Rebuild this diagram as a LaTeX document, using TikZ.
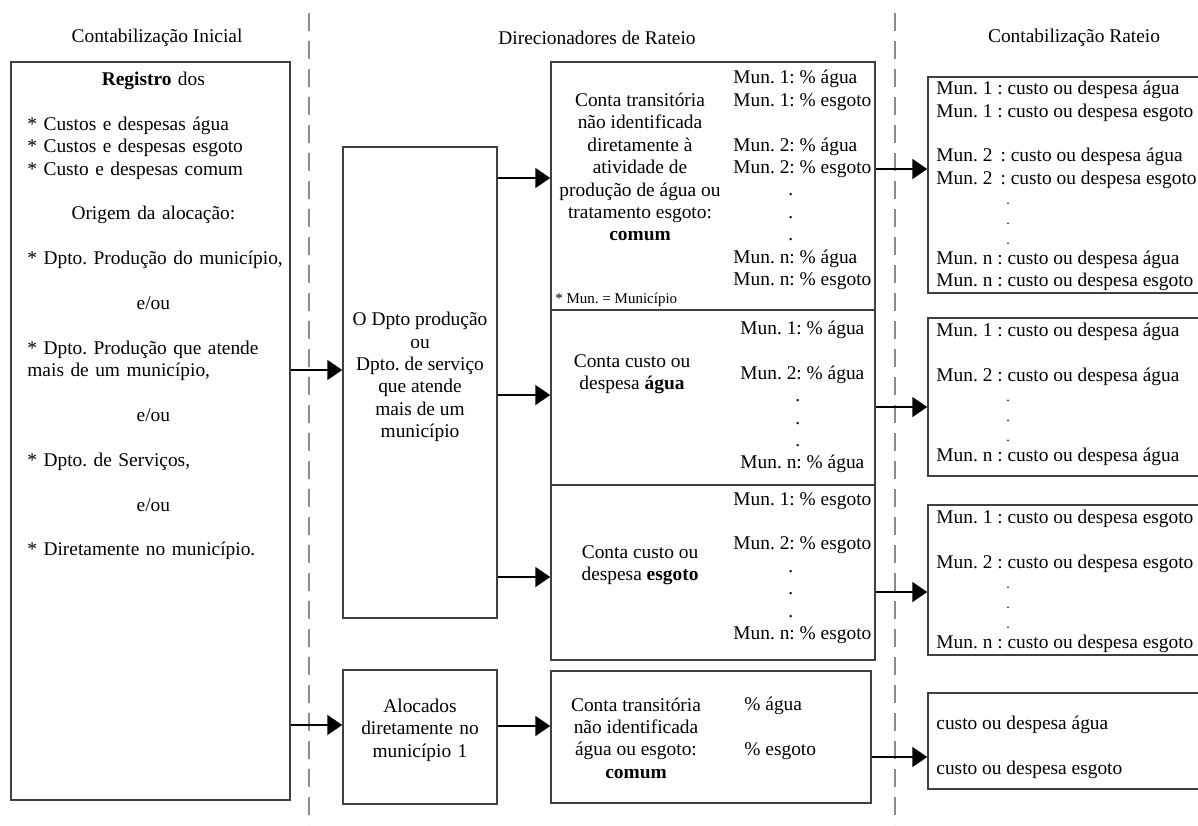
\documentclass[tikz,border=0pt]{standalone}
\usepackage{fontspec}
\setmainfont{Liberation Serif}
\usetikzlibrary{arrows.meta,fit}
\frenchspacing

\tikzset{
  caixa/.style={draw=black!75, line width=0.75pt, inner sep=0pt},
  seta/.style={line width=1pt, -{Triangle[length=7.5pt,width=10pt]}},
  divisa/.style={draw=black!45, line width=1pt, dash pattern=on 9pt off 5pt},
  lista/.style={align=left, anchor=west, inner sep=0pt},
  bloco/.style={align=center, inner sep=0pt}
}
\newcommand{\meio}[1]{\makebox[126pt]{#1}}
\newcommand{\ponto}[1]{\hspace*{#1}.}
\newcommand{\pontinho}{\hspace*{35pt}{\fontsize{7}{8}\selectfont .}}

\begin{document}
\begin{tikzpicture}[x=0.5pt, y=-0.5pt, font=\fontsize{9.7}{11.2}\selectfont]
    \path[use as bounding box, clip] (0,0) rectangle (1198,825);

    % Drawing the dividers
    \draw[divisa] (309,13) -- (309,825);
    \draw[divisa] (895,13) -- (895,825);

    % Column titles
    \node (tInicial) at (157,38) {Contabilização Inicial};
    \node (tDirecionadores) at (597,38) {Direcionadores de Rateio};
    \node (tRateio) at (1074,38) {Contabilização Rateio};

    % Contabilizacao inicial
    \node[caixa, fit={(11,62) (290,800)}] (inicial) {};
    \node[inner sep=0pt, text width=140pt, align=left, anchor=west] (registro) at (27,316) {%
        \hyphenpenalty=10000
        \meio{\textbf{Registro} dos}\\ ~\\
        {*} Custos e despesas água\\
        {*} Custos e despesas esgoto\\
        {*} Custo e despesas comum\\ ~\\
        \meio{Origem da alocação:}\\ ~\\
        {*} Dpto. Produção do município,\\ ~\\
        \meio{e/ou}\\ ~\\
        {*} Dpto. Produção que atende\\
        mais de um município,\\ ~\\
        \meio{e/ou}\\ ~\\
        {*} Dpto. de Serviços,\\ ~\\
        \meio{e/ou}\\ ~\\
        {*} Diretamente no município.};

    % Departamentos
    \node[caixa, fit={(343,147) (497,618)}] (dpto) {};
    \node[bloco] (dptoTexto) at (420,377) {O Dpto produção\\ou\\Dpto. de serviço\\que atende\\mais de um\\município};
    \node[caixa, fit={(343,670) (497,804)}, align=center] (alocados) {Alocados\\diretamente no\\município 1};

    % Direcionadores de rateio
    \node[caixa, fit={(551,62) (875,310)}] (comum) {};
    \node[caixa, fit={(551,310) (875,485)}] (agua) {};
    \node[caixa, fit={(551,485) (875,660)}] (esgoto) {};
    \node[caixa, fit={(551,671) (871,803)}] (direto) {};

    \node[bloco] (comumTexto) at (640,167) {Conta transitória\\não identificada\\diretamente à\\atividade de\\produção de água ou\\tratamento esgoto:\\\textbf{comum}};
    \node[lista] (comumMun) at (733,180) {Mun. 1: \% água\\Mun. 1: \% esgoto\\~\\Mun. 2: \% água\\Mun. 2: \% esgoto\\\ponto{27.5pt}\\\ponto{27.5pt}\\\ponto{27.5pt}\\Mun. n: \% água\\Mun. n: \% esgoto};
    \node[lista, font=\fontsize{7.5}{9}\selectfont] (nota) at (555,300) {* Mun. = Município};

    \node[bloco] (aguaTexto) at (632,374) {Conta custo ou\\despesa \textbf{água}};
    \node[lista] (aguaMun) at (740,397) {Mun. 1: \% água\\~\\Mun. 2: \% água\\\ponto{27.5pt}\\\ponto{27.5pt}\\\ponto{27.5pt}\\Mun. n: \% água};

    \node[bloco] (esgotoTexto) at (640,565) {Conta custo ou\\despesa \textbf{esgoto}};
    \node[lista] (esgotoMun) at (733,568) {Mun. 1: \% esgoto\\~\\Mun. 2: \% esgoto\\\ponto{27.5pt}\\\ponto{27.5pt}\\\ponto{27.5pt}\\Mun. n: \% esgoto};

    \node[bloco] (diretoTexto) at (636,738) {Conta transitória\\não identificada\\água ou esgoto:\\\textbf{comum}};
    \node[lista] (diretoPct) at (744,728) {\% água\\~\\\% esgoto};

    % Contabilizacao rateio
    \node[caixa, fit={(928,77) (1215,293)}] (rateioComum) {};
    \node[caixa, fit={(928,318) (1215,476)}] (rateioAgua) {};
    \node[caixa, fit={(928,505) (1215,655)}] (rateioEsgoto) {};
    \node[caixa, fit={(928,693) (1215,789)}] (rateioDireto) {};

    \node[lista] (rComumTexto) at (936,186) {Mun. 1 : custo ou despesa água\\Mun. 1 : custo ou despesa esgoto\\~\\Mun. 2\,\ : custo ou despesa água\\Mun. 2\,\ : custo ou despesa esgoto\\[-1.2pt]\pontinho\\[-1.2pt]\pontinho\\[-1.2pt]\pontinho\\[-1.2pt]Mun. n : custo ou despesa água\\Mun. n : custo ou despesa esgoto};
    \node[lista] (rAguaTexto) at (936,394) {Mun. 1 : custo ou despesa água\\~\\Mun. 2 : custo ou despesa água\\[-1.2pt]\pontinho\\[-1.2pt]\pontinho\\[-1.2pt]\pontinho\\[-1.2pt]Mun. n : custo ou despesa água};
    \node[lista] (rEsgotoTexto) at (936,581) {Mun. 1 : custo ou despesa esgoto\\~\\Mun. 2 : custo ou despesa esgoto\\[-1.2pt]\pontinho\\[-1.2pt]\pontinho\\[-1.2pt]\pontinho\\[-1.2pt]Mun. n : custo ou despesa esgoto};
    \node[lista] (rDiretoTexto) at (936,747) {custo ou despesa água\\~\\custo ou despesa esgoto};

    % Arrows
    \foreach \de/\para/\altura in {inicial/dpto/370, inicial/alocados/725, dpto/comum/178, dpto/agua/395, dpto/esgoto/577, alocados/direto/726, comum/rateioComum/169, agua/rateioAgua/407, esgoto/rateioEsgoto/592, direto/rateioDireto/757}
        \draw[seta] (\de.east |- 0,\altura) -- (\para.west |- 0,\altura);
\end{tikzpicture}
\end{document}
